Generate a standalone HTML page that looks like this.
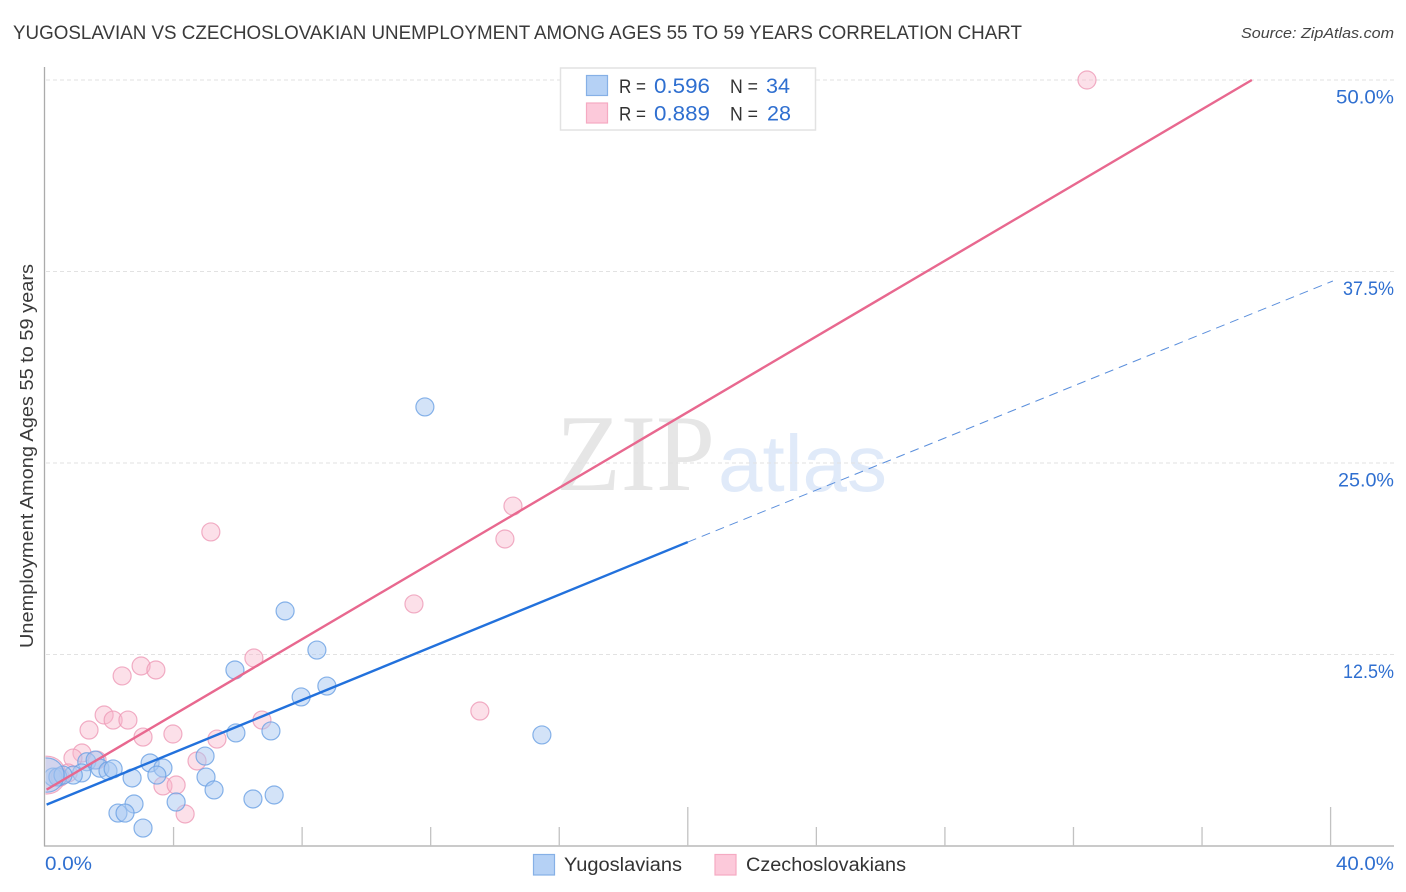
<!DOCTYPE html>
<html lang="en">
<head>
<meta charset="utf-8">
<title>Yugoslavian vs Czechoslovakian Unemployment Correlation Chart</title>
<style>
html,body{margin:0;padding:0;background:#fff;}
body{width:1406px;height:892px;overflow:hidden;}
svg{display:block;font-family:"Liberation Sans",sans-serif;}
</style>
</head>
<body>
<svg id="chart" width="1406" height="892" viewBox="0 0 1406 892" xmlns="http://www.w3.org/2000/svg">
  <defs><clipPath id="plot-clip"><rect x="45.5" y="60" width="1350" height="786"/></clipPath></defs>
  <text x="13" y="39" font-size="19.5" fill="#3a3a3a" textLength="1009" lengthAdjust="spacingAndGlyphs">YUGOSLAVIAN VS CZECHOSLOVAKIAN UNEMPLOYMENT AMONG AGES 55 TO 59 YEARS CORRELATION CHART</text>
  <text x="1241" y="38" font-size="15" font-style="italic" fill="#444" textLength="153" lengthAdjust="spacingAndGlyphs">Source: ZipAtlas.com</text>

  <g id="watermark">
    <text x="556" y="490" font-family="'Liberation Serif',serif" font-size="109" fill="#e6e6e6" textLength="159" lengthAdjust="spacingAndGlyphs">ZIP</text>
    <text x="718" y="491" font-size="80" fill="#e0eaf9" textLength="169" lengthAdjust="spacingAndGlyphs">atlas</text>
  </g>

  <g id="grid"></g>
  <g id="axes"></g>
  <g id="points" clip-path="url(#plot-clip)"></g>
  <g id="trends"></g>
  <g id="labels"></g>

  <text transform="translate(33,648) rotate(-90)" font-size="18.5" fill="#3a3a3a" textLength="384" lengthAdjust="spacingAndGlyphs">Unemployment Among Ages 55 to 59 years</text>

  <g>
    <rect x="560.5" y="68" width="255" height="62" fill="#fff" stroke="#e2e2e2" stroke-width="1.5"/>
    <rect x="586.5" y="75.5" width="21" height="20" fill="#b5d1f5" stroke="#86b0e6" stroke-width="1.2"/>
    <rect x="586.5" y="103" width="21" height="20" fill="#fcc9da" stroke="#f5aac2" stroke-width="1.2"/>
    <text x="619" y="93" font-size="19.5" fill="#333" textLength="27" lengthAdjust="spacingAndGlyphs">R =</text>
    <text x="654" y="93" font-size="21" fill="#2f6fd0" textLength="56" lengthAdjust="spacingAndGlyphs">0.596</text>
    <text x="730" y="93" font-size="19.5" fill="#333" textLength="28" lengthAdjust="spacingAndGlyphs">N =</text>
    <text x="766" y="93" font-size="21" fill="#2f6fd0" textLength="24" lengthAdjust="spacingAndGlyphs">34</text>
    <text x="619" y="120.5" font-size="19.5" fill="#333" textLength="27" lengthAdjust="spacingAndGlyphs">R =</text>
    <text x="654" y="120.5" font-size="21" fill="#2f6fd0" textLength="56" lengthAdjust="spacingAndGlyphs">0.889</text>
    <text x="730" y="120.5" font-size="19.5" fill="#333" textLength="28" lengthAdjust="spacingAndGlyphs">N =</text>
    <text x="767" y="120.5" font-size="21" fill="#2f6fd0" textLength="24" lengthAdjust="spacingAndGlyphs">28</text>
  </g>

  <g>
    <rect x="533.5" y="854.5" width="21" height="20.5" fill="#b5d1f5" stroke="#86b0e6" stroke-width="1.2"/>
    <text x="564" y="871" font-size="19" fill="#333" textLength="118" lengthAdjust="spacingAndGlyphs">Yugoslavians</text>
    <rect x="715" y="854.5" width="21" height="20.5" fill="#fcc9da" stroke="#f5aac2" stroke-width="1.2"/>
    <text x="746" y="871" font-size="19" fill="#333" textLength="160" lengthAdjust="spacingAndGlyphs">Czechoslovakians</text>
  </g>
</svg>
<script>
// Chart data (x and y in percent)
const yugoslavianX = [11.82,7.47,8.46,5.91,8.77,7.97,5.94,7.03,15.46,4.98,3.27,3.67,3.48,5.01,2.71,5.26,4.08,2.77,6.47,7.13,2.27,2.49,3.05,1.30,1.56,1.71,1.96,2.12,1.14,0.88,0.25,0.40,0.56,0.06];
const yugoslavianY = [28.66,15.34,12.79,11.49,10.44,9.73,7.38,7.51,7.25,5.87,5.42,5.09,4.63,4.50,4.44,3.66,2.87,2.74,3.07,3.33,2.15,2.15,1.17,5.50,5.61,5.08,4.90,5.03,4.77,4.63,4.50,4.50,4.63,4.63];
const yugoslavianWeight = [1,1,1,1,1,1,1,1,1,1,1,1,1,1,1,1,1,1,1,1,1,1,1,1,1,1,1,1,1,1,1,1,1,1.9];
const czechoslovakianX = [32.42,14.56,14.31,5.16,11.48,6.50,2.99,3.45,2.40,13.53,1.84,2.12,2.58,6.75,1.37,3.98,3.05,5.35,1.15,0.87,1.62,4.73,3.67,4.08,4.36,0.72,0.47,0.06];
const czechoslovakianY = [50.0,22.19,20.04,20.50,15.80,12.27,11.75,11.49,11.10,8.81,8.55,8.22,8.22,8.22,7.57,7.31,7.11,6.98,6.07,5.74,5.61,5.55,3.92,3.98,2.09,4.77,4.50,4.63];
const czechoslovakianWeight = [1,1,1,1,1,1,1,1,1,1,1,1,1,1,1,1,1,1,1,1,1,1,1,1,1,1,1,2.1];
const yugoslavianTrendX = [0.05,20,40.07];
const yugoslavianTrendY = [2.7,19.84,36.88];
const czechoslovakianTrendX = [0.05,37.55];
const czechoslovakianTrendY = [3.68,50];
const yTicks = [12.5,25,37.5,50];
const yTickLabels = ["12.5%","25.0%","37.5%","50.0%"];
const yTickLabelWidths = [51,56,51,58];
const xTicks = [4,8,12,16,20,24,28,32,36,40];
const xMajorTicks = [20,40];
const xEndTicks = [0,40];
const xEndLabels = ["0.0%","40.0%"];

const NS = 'http://www.w3.org/2000/svg';
const sx = v => 45 + v * 32.14;
const sy = v => 846 - v * 15.32;
const make = (tag, parent) => { const el = document.createElementNS(NS, tag); parent.appendChild(el); return el; };
const grid = document.getElementById('grid');
const axes = document.getElementById('axes');
const labels = document.getElementById('labels');
const points = document.getElementById('points');
const trends = document.getElementById('trends');

yTicks.forEach((t, i) => {
  const l = make('line', grid);
  
  
  l.setAttribute('x1', 46); l.setAttribute('x2', 1394);
  l.setAttribute('y1', sy(t)); l.setAttribute('y2', sy(t));
  l.setAttribute('stroke', '#e2e2e2'); l.setAttribute('stroke-width', 1); l.setAttribute('stroke-dasharray', '4 3');
  const tx = make('text', labels);
  
  
  tx.setAttribute('x', 1394); tx.setAttribute('y', sy(t) + 23.5);
  tx.setAttribute('text-anchor', 'end'); tx.setAttribute('font-size', 19.5); tx.setAttribute('fill', '#2f6fd0');
  tx.setAttribute('textLength', yTickLabelWidths[i]);
  tx.setAttribute('lengthAdjust', 'spacingAndGlyphs');
  tx.textContent = yTickLabels[i];
});

const leftAxis = make('line', axes);


leftAxis.setAttribute('x1', 44.5); leftAxis.setAttribute('x2', 44.5);
leftAxis.setAttribute('y1', 67); leftAxis.setAttribute('y2', 846.5);
leftAxis.setAttribute('stroke', '#ababab'); leftAxis.setAttribute('stroke-width', 1.3);
const bottomAxis = make('line', axes);


bottomAxis.setAttribute('x1', 44); bottomAxis.setAttribute('x2', 1394);
bottomAxis.setAttribute('y1', 846); bottomAxis.setAttribute('y2', 846);
bottomAxis.setAttribute('stroke', '#ababab'); bottomAxis.setAttribute('stroke-width', 1.3);

xTicks.forEach(t => {
  const tick = make('line', axes);
  
  
  tick.setAttribute('x1', sx(t)); tick.setAttribute('x2', sx(t));
  tick.setAttribute('y1', xMajorTicks.includes(t) ? 807 : 827); tick.setAttribute('y2', 846);
  tick.setAttribute('stroke', '#c2c2c2'); tick.setAttribute('stroke-width', 1.3);
});

xEndTicks.forEach((t, i) => {
  const tx = make('text', labels);
  
  
  tx.setAttribute('x', i === 0 ? sx(t) : 1394); tx.setAttribute('y', 870);
  tx.setAttribute('text-anchor', i === 0 ? 'start' : 'end'); tx.setAttribute('font-size', 19.5); tx.setAttribute('fill', '#2f6fd0');
  tx.setAttribute('textLength', i === 0 ? 47 : 58);
  tx.setAttribute('lengthAdjust', 'spacingAndGlyphs');
  tx.textContent = xEndLabels[i];
});

function drawSeries(xs, ys, ws, fill, stroke, fillOpacity, name) {
  xs.forEach((x, i) => {
    const c = make('circle', points);
    
    
    c.setAttribute('cx', sx(x)); c.setAttribute('cy', sy(ys[i])); c.setAttribute('r', 9 * ws[i]);
    c.setAttribute('fill', fill); c.setAttribute('fill-opacity', fillOpacity);
    c.setAttribute('stroke', stroke); c.setAttribute('stroke-width', 1.2); c.setAttribute('stroke-opacity', 0.8);
  });
}
drawSeries(czechoslovakianX, czechoslovakianY, czechoslovakianWeight, '#f8b4cb', '#ee9ab6', 0.42, 'czechoslovakian-point');
drawSeries(yugoslavianX, yugoslavianY, yugoslavianWeight, '#a8c8f2', '#6aa0e4', 0.5, 'yugoslavian-point');

const pinkLine = make('line', trends);


pinkLine.setAttribute('x1', sx(czechoslovakianTrendX[0])); pinkLine.setAttribute('y1', sy(czechoslovakianTrendY[0]));
pinkLine.setAttribute('x2', sx(czechoslovakianTrendX[1])); pinkLine.setAttribute('y2', sy(czechoslovakianTrendY[1]));
pinkLine.setAttribute('stroke', '#e8688f'); pinkLine.setAttribute('stroke-width', 2.4);
const blueSolid = make('line', trends);


blueSolid.setAttribute('x1', sx(yugoslavianTrendX[0])); blueSolid.setAttribute('y1', sy(yugoslavianTrendY[0]));
blueSolid.setAttribute('x2', sx(yugoslavianTrendX[1])); blueSolid.setAttribute('y2', sy(yugoslavianTrendY[1]));
blueSolid.setAttribute('stroke', '#2271dc'); blueSolid.setAttribute('stroke-width', 2.4);
const blueDash = make('line', trends);


blueDash.setAttribute('x1', sx(yugoslavianTrendX[1])); blueDash.setAttribute('y1', sy(yugoslavianTrendY[1]));
blueDash.setAttribute('x2', sx(yugoslavianTrendX[2])); blueDash.setAttribute('y2', sy(yugoslavianTrendY[2]));
blueDash.setAttribute('stroke', '#5b8fdc'); blueDash.setAttribute('stroke-width', 1); blueDash.setAttribute('stroke-dasharray', '9 6');
</script>
</body>
</html>
